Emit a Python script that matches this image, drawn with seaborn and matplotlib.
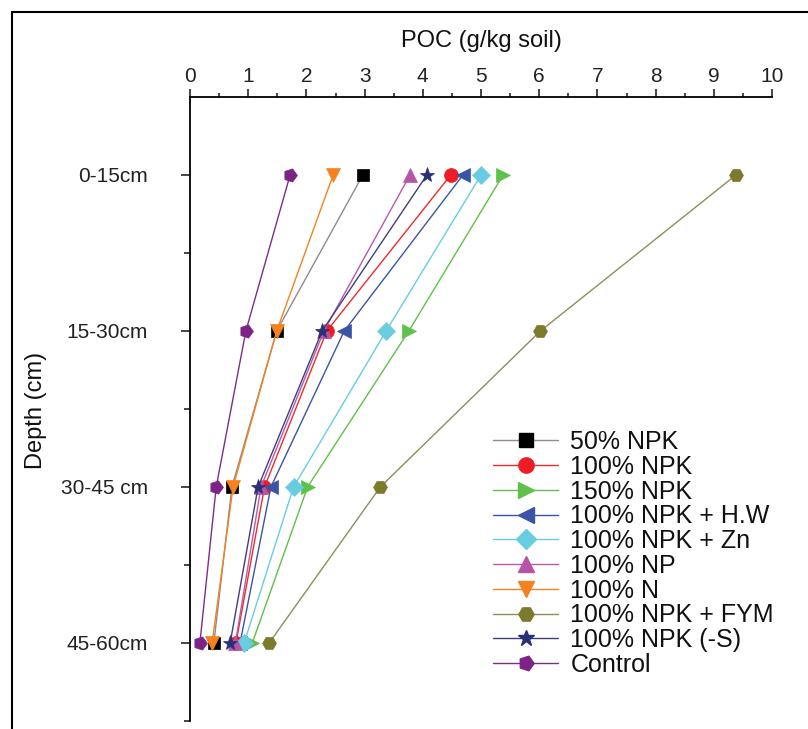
import matplotlib
matplotlib.use("Agg")
import matplotlib.pyplot as plt
import seaborn as sns
import pandas as pd
from matplotlib.lines import Line2D

sns.set_style("white")
plt.rcParams['font.family'] = ['Liberation Sans', 'DejaVu Sans']

depths = ["0-15cm", "15-30cm", "30-45 cm", "45-60cm"]
treatments = ["50% NPK", "100% NPK", "150% NPK", "100% NPK + H.W", "100% NPK + Zn",
              "100% NP", "100% N", "100% NPK + FYM", "100% NPK (-S)", "Control"]

npk50   = [2.97, 1.49, 0.72, 0.41]
npk100  = [4.48, 2.35, 1.28, 0.79]
npk150  = [5.38, 3.76, 2.02, 1.07]
npk_hw  = [4.69, 2.65, 1.39, 0.86]
npk_zn  = [5.00, 3.37, 1.78, 0.93]
np100   = [3.78, 2.30, 1.22, 0.78]
n100    = [2.46, 1.49, 0.74, 0.38]
npk_fym = [9.38, 6.02, 3.27, 1.36]
npk_s   = [4.07, 2.27, 1.17, 0.69]
control = [1.72, 0.96, 0.45, 0.17]

values = [npk50, npk100, npk150, npk_hw, npk_zn, np100, n100, npk_fym, npk_s, control]

line_colors = ["#8c8c8c", "#ee2a2e", "#5fc14b", "#3b54a5", "#68cde0",
               "#b859aa", "#f5821f", "#8e8e5a", "#3d3f7e", "#7d2c88"]
marker_colors = ["#000000", "#ee1c25", "#5fc14b", "#3b54a5", "#68cde0",
                 "#b555a8", "#f5821f", "#7b7b2e", "#2b2f78", "#7d2386"]
markers = ["s", "o", ">", "<", "D", "^", "v", "H", "*", (5, 0, -90)]
msizes = [9, 10, 10, 10, 9, 10, 10, 10, 11, 10]

fig = plt.figure(figsize=(8.08, 7.29), dpi=100)
ax = fig.add_axes([190/808, 1-721/729, (772-190)/808, (721-97)/729])

handles = []
for i, t in enumerate(treatments):
    df = pd.DataFrame({"POC": values[i], "Depth": list(range(len(depths)))})
    sns.lineplot(data=df, x="POC", y="Depth", orient="y", sort=False, estimator=None,
                 ax=ax, color=line_colors[i], lw=1.0, marker=markers[i],
                 markersize=msizes[i], markerfacecolor=marker_colors[i],
                 markeredgecolor=marker_colors[i], markeredgewidth=0.5)
    handles.append(Line2D([], [], color=line_colors[i], lw=1.0, marker=markers[i],
                          markersize=msizes[i] + 1, markerfacecolor=marker_colors[i],
                          markeredgecolor=marker_colors[i]))

ax.set_xlim(0, 10)
ax.set_ylim(3.5, -0.5)
ax.xaxis.tick_top()
ax.xaxis.set_label_position("top")
ax.set_xticks(range(0, 11))
ax.set_xticks([x + 0.5 for x in range(10)], minor=True)
ax.set_yticks(range(len(depths)))
ax.set_yticklabels(depths)
ax.set_yticks([0.5, 1.5, 2.5, 3.5], minor=True)
for s in ["right", "bottom"]:
    ax.spines[s].set_visible(False)
for s in ["left", "top"]:
    ax.spines[s].set_color("black")
    ax.spines[s].set_linewidth(1.3)

ax.tick_params(axis="x", which="major", direction="out", length=6, width=1.2, pad=2,
               labelsize=15, top=True, bottom=False, labelcolor="#222222")
ax.tick_params(axis="x", which="minor", direction="out", length=3, width=1.2, top=True, bottom=False)
ax.tick_params(axis="y", which="major", direction="out", length=6.5, width=1.2, pad=24,
               labelsize=15, left=True, labelcolor="#222222")
ax.tick_params(axis="y", which="minor", direction="out", length=4, width=1.2, left=True)

ax.set_xlabel("POC (g/kg soil)", fontsize=17, labelpad=14, color="#111111")
ax.set_ylabel("")
fig.text(36/808, 1-410/729, "Depth (cm)", rotation=90, ha="center", va="center", fontsize=17,
         color="#111111")

leg = fig.legend(handles, treatments, loc="upper left", bbox_to_anchor=(483/808, 1-420/729),
                 frameon=False, fontsize=18, handlelength=2.6, handletextpad=0.5,
                 labelspacing=0.03, borderaxespad=0)
for txt in leg.get_texts():
    txt.set_color("#111111")

# figure frame
fig.add_artist(Line2D([12/808, 12/808], [0, 1-12/729], color="black", lw=1.5, transform=fig.transFigure))
fig.add_artist(Line2D([12/808, 1], [1-12/729, 1-12/729], color="black", lw=1.5, transform=fig.transFigure))

fig.savefig("out.png", dpi=100)
